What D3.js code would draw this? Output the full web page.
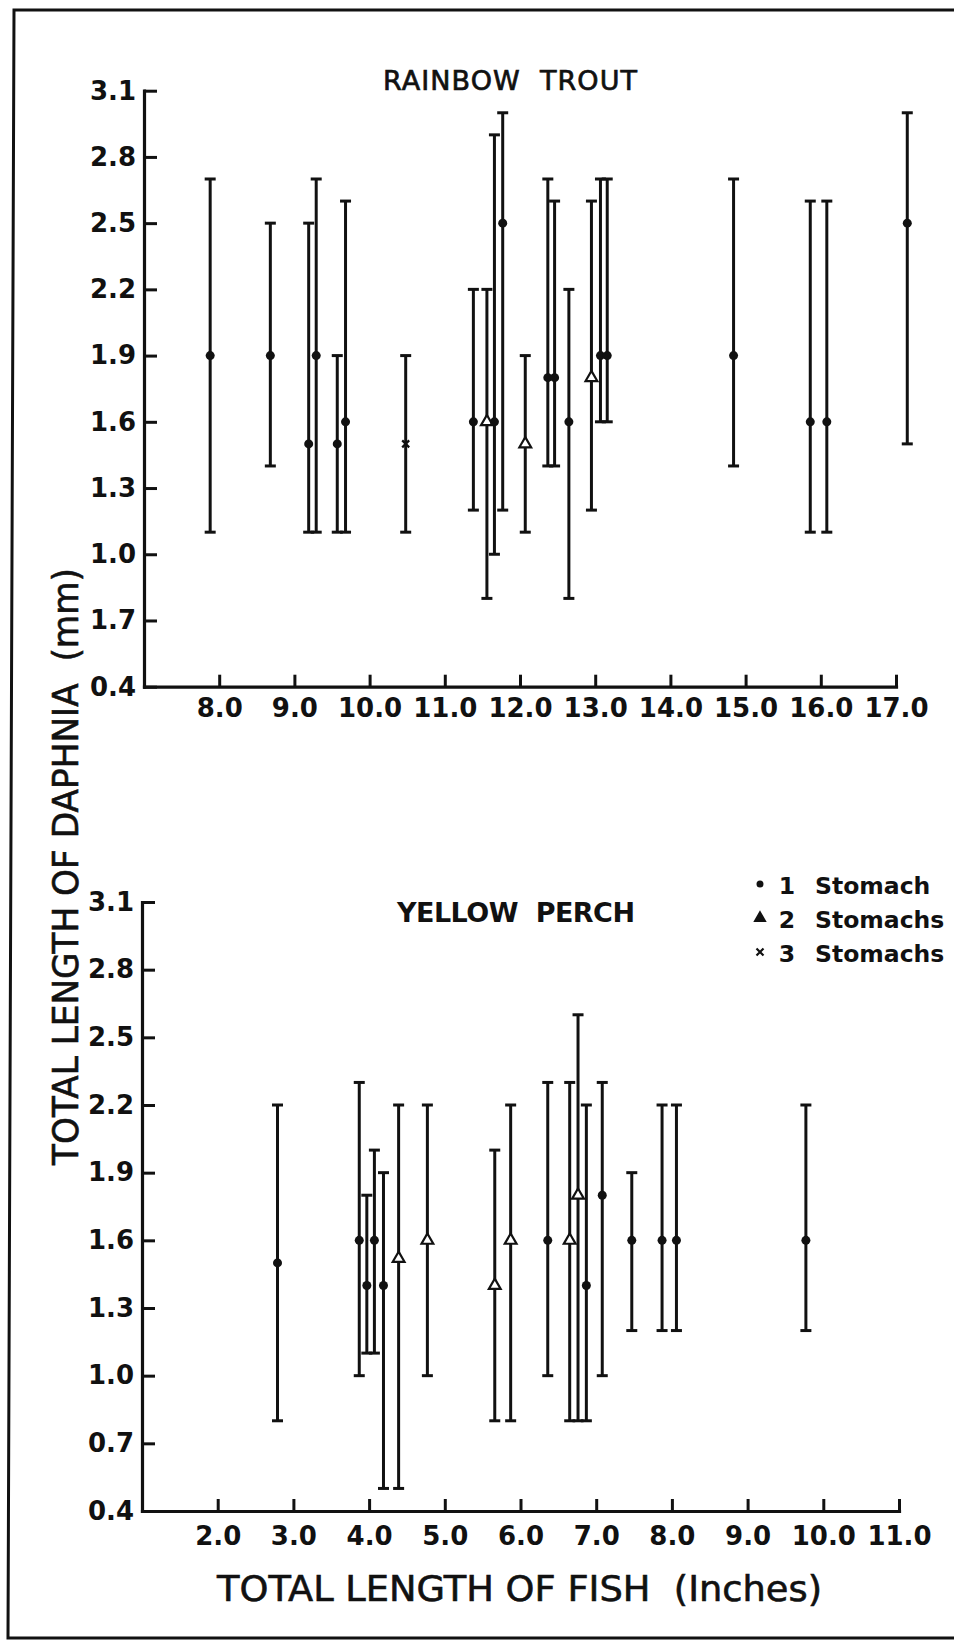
<!DOCTYPE html>
<html>
<head>
<meta charset="utf-8">
<script src="https://cdn.jsdelivr.net/npm/d3@7"></script>
<style>
  body { margin: 0; background: #fff; }
  svg { display: block; }
  text { font-family: "DejaVu Sans", sans-serif; fill: #111; white-space: pre; }
</style>
</head>
<body>
<div id="chart"></div>
<script>
// Rainbow trout: fish length (in), daphnia mean / min / max (mm), number of stomachs
var troutLength   = [7.88, 8.68, 9.19, 9.29, 9.57, 9.68, 10.48, 11.38, 11.56, 11.66, 11.77, 12.07, 12.37, 12.46, 12.65, 12.95, 13.07, 13.16, 14.84, 15.86, 16.08, 17.15];
var troutMean     = [1.9, 1.9, 1.5, 1.9, 1.5, 1.6, 1.5, 1.6, 1.6, 1.6, 2.5, 1.5, 1.8, 1.8, 1.6, 1.8, 1.9, 1.9, 1.9, 1.6, 1.6, 2.5];
var troutLow      = [1.1, 1.4, 1.1, 1.1, 1.1, 1.1, 1.1, 1.2, 0.8, 1.0, 1.2, 1.1, 1.4, 1.4, 0.8, 1.2, 1.6, 1.6, 1.4, 1.1, 1.1, 1.5];
var troutHigh     = [2.7, 2.5, 2.5, 2.7, 1.9, 2.6, 1.9, 2.2, 2.2, 2.9, 3.0, 1.9, 2.7, 2.6, 2.2, 2.6, 2.7, 2.7, 2.7, 2.6, 2.6, 3.0];
var troutStomachs = [1, 1, 1, 1, 1, 1, 3, 1, 2, 1, 1, 2, 1, 1, 1, 2, 1, 1, 1, 1, 1, 1];

// Yellow perch
var perchLength   = [2.79, 3.87, 3.97, 4.07, 4.19, 4.39, 4.77, 5.66, 5.87, 6.36, 6.65, 6.76, 6.87, 7.08, 7.47, 7.87, 8.06, 9.77];
var perchMean     = [1.5, 1.6, 1.4, 1.6, 1.4, 1.52, 1.6, 1.4, 1.6, 1.6, 1.6, 1.8, 1.4, 1.8, 1.6, 1.6, 1.6, 1.6];
var perchLow      = [0.8, 1.0, 1.1, 1.1, 0.5, 0.5, 1.0, 0.8, 0.8, 1.0, 0.8, 0.8, 0.8, 1.0, 1.2, 1.2, 1.2, 1.2];
var perchHigh     = [2.2, 2.3, 1.8, 2.0, 1.9, 2.2, 2.2, 2.0, 2.2, 2.3, 2.3, 2.6, 2.2, 2.3, 1.9, 2.2, 2.2, 2.2];
var perchStomachs = [1, 1, 1, 1, 1, 2, 2, 2, 2, 1, 2, 2, 1, 1, 1, 1, 1, 1];

// ticks
var yTickValues  = [0.4, 0.7, 1.0, 1.3, 1.6, 1.9, 2.2, 2.5, 2.8, 3.1];
var troutYLabels = ["0.4", "1.7", "1.0", "1.3", "1.6", "1.9", "2.2", "2.5", "2.8", "3.1"];
var perchYLabels = ["0.4", "0.7", "1.0", "1.3", "1.6", "1.9", "2.2", "2.5", "2.8", "3.1"];
var troutXTicks  = [8, 9, 10, 11, 12, 13, 14, 15, 16, 17];
var troutXLabels = ["8.0", "9.0", "10.0", "11.0", "12.0", "13.0", "14.0", "15.0", "16.0", "17.0"];
var perchXTicks  = [2, 3, 4, 5, 6, 7, 8, 9, 10, 11];
var perchXLabels = ["2.0", "3.0", "4.0", "5.0", "6.0", "7.0", "8.0", "9.0", "10.0", "11.0"];

// legend
var legendCounts = [1, 2, 3];
var legendNums   = ["1", "2", "3"];
var legendWords  = ["Stomach", "Stomachs", "Stomachs"];

function init() {
    var w = 954, h = 1646;

    var svg = d3.select("#chart")
                .append("svg")
                .attr("width", w)
                .attr("height", h);

    // page frame (open on the right like the scan)
    svg.append("path")
       .attr("d", "M954,10 L14,10 L8,1638 L954,1638")
       .attr("fill", "none")
       .attr("stroke", "#111")
       .attr("stroke-width", 3);

    drawPanel(svg, {
        left: 144, right: 896, top: 90.7, bottom: 686.7,
        xDomain: [7, 17], xTicks: troutXTicks, xLabels: troutXLabels, yLabels: troutYLabels,
        xPad: 12,
        length: troutLength, mean: troutMean, low: troutLow, high: troutHigh, stomachs: troutStomachs,
        title: "RAINBOW  TROUT", titleX: 510, titleY: 90, titleLen: 254, titleWeight: "normal"
    });

    drawPanel(svg, {
        left: 142, right: 899, top: 902, bottom: 1511,
        xDomain: [1, 11], xTicks: perchXTicks, xLabels: perchXLabels, yLabels: perchYLabels,
        xPad: 16,
        length: perchLength, mean: perchMean, low: perchLow, high: perchHigh, stomachs: perchStomachs,
        title: "YELLOW  PERCH", titleX: 516, titleY: 922, titleLen: 238, titleWeight: "bold"
    });

    // axis titles
    svg.append("text")
       .attr("transform", "translate(78,1165) rotate(-90)")
       .attr("font-size", 35)
       .attr("stroke", "#111").attr("stroke-width", 0.6)
       .attr("textLength", 597)
       .attr("lengthAdjust", "spacingAndGlyphs")
       .text("TOTAL LENGTH OF DAPHNIA  (mm)");

    svg.append("text")
       .attr("x", 217)
       .attr("y", 1601)
       .attr("font-size", 35)
       .attr("stroke", "#111").attr("stroke-width", 0.6)
       .attr("textLength", 605)
       .attr("lengthAdjust", "spacingAndGlyphs")
       .text("TOTAL LENGTH OF FISH  (Inches)");

    // legend
    var lg = svg.append("g");
    var rowY = d3.scaleLinear().domain([1, 3]).range([884, 952]);
    legendCounts.forEach(function(c, i) {
        drawMarker(lg, 760, rowY(c), c, true);
        lg.append("text")
          .attr("x", 787).attr("y", rowY(c) + 10)
          .attr("text-anchor", "middle")
          .attr("font-size", 23.5).attr("font-weight", "bold")
          .text(legendNums[i]);
        lg.append("text")
          .attr("x", 815).attr("y", rowY(c) + 10)
          .attr("font-size", 23.5).attr("font-weight", "bold")
          .text(legendWords[i]);
    });
}

function drawMarker(g, cx, cy, n, legend) {
    if (n === 1) {
        g.append("circle")
         .attr("cx", cx).attr("cy", cy)
         .attr("r", legend ? 3.5 : 4.5)
         .attr("fill", "#111");
    } else if (n === 2) {
        g.append("path")
         .attr("d", d3.symbol(d3.symbolTriangle).size(legend ? 40 : 60)())
         .attr("transform", "translate(" + cx + "," + cy + ")")
         .attr("fill", legend ? "#111" : "#fff")
         .attr("stroke", "#111")
         .attr("stroke-width", 2.2);
    } else {
        g.append("path")
         .attr("d", "M-3.5,-3.5L3.5,3.5M-3.5,3.5L3.5,-3.5")
         .attr("transform", "translate(" + cx + "," + cy + ")")
         .attr("stroke", "#111")
         .attr("stroke-width", 2.2);
    }
}

function drawPanel(svg, p) {
    var x = d3.scaleLinear().domain(p.xDomain).range([p.left, p.right]);
    var y = d3.scaleLinear().domain([0.4, 3.1]).range([p.bottom, p.top]);

    var g = svg.append("g");

    // y axis, ticks pointing inward
    var yAxis = d3.axisLeft(y)
                  .tickValues(yTickValues)
                  .tickFormat(function(d, i) { return p.yLabels[i]; })
                  .tickSizeInner(-13)
                  .tickSizeOuter(0)
                  .tickPadding(8);

    var xAxis = d3.axisBottom(x)
                  .tickValues(p.xTicks)
                  .tickFormat(function(d, i) { return p.xLabels[i]; })
                  .tickSizeInner(-12)
                  .tickSizeOuter(0)
                  .tickPadding(p.xPad);

    var ya = g.append("g")
              .attr("transform", "translate(" + p.left + ",0)")
              .call(yAxis);
    var xa = g.append("g")
              .attr("transform", "translate(0," + p.bottom + ")")
              .call(xAxis);

    [ya, xa].forEach(function(a) {
        a.attr("color", "#111").attr("font-family", null).attr("font-size", null);
        a.select(".domain").attr("stroke-width", 3.2).attr("stroke-linecap", "square");
        a.selectAll(".tick line").attr("stroke-width", 3);
        a.selectAll(".tick text")
         .attr("font-size", 26)
         .attr("font-weight", "bold")
         .style("font-family", "'DejaVu Sans', sans-serif");
    });

    // panel title
    g.append("text")
     .attr("x", p.titleX)
     .attr("y", p.titleY)
     .attr("text-anchor", "middle")
     .attr("font-size", 27)
     .attr("font-weight", p.titleWeight)
     .attr("stroke", "#111")
     .attr("stroke-width", p.titleWeight === "bold" ? 0 : 0.7)
     .attr("textLength", p.titleLen)
     .attr("lengthAdjust", "spacing")
     .text(p.title);

    // error bars: range of daphnia lengths with mean marker
    var capW = 5.5;
    p.length.forEach(function(len, i) {
        var cx = x(len);
        var bar = g.append("g")
                   .attr("stroke", "#111");
        bar.append("line")
           .attr("x1", cx).attr("x2", cx)
           .attr("y1", y(p.low[i])).attr("y2", y(p.high[i]))
           .attr("stroke-width", 3);
        [p.low[i], p.high[i]].forEach(function(v) {
            bar.append("line")
               .attr("x1", cx - capW).attr("x2", cx + capW)
               .attr("y1", y(v)).attr("y2", y(v))
               .attr("stroke-width", 3);
        });
        drawMarker(g, cx, y(p.mean[i]), p.stomachs[i], false);
    });
}

window.onload = init;
</script>
</body>
</html>
